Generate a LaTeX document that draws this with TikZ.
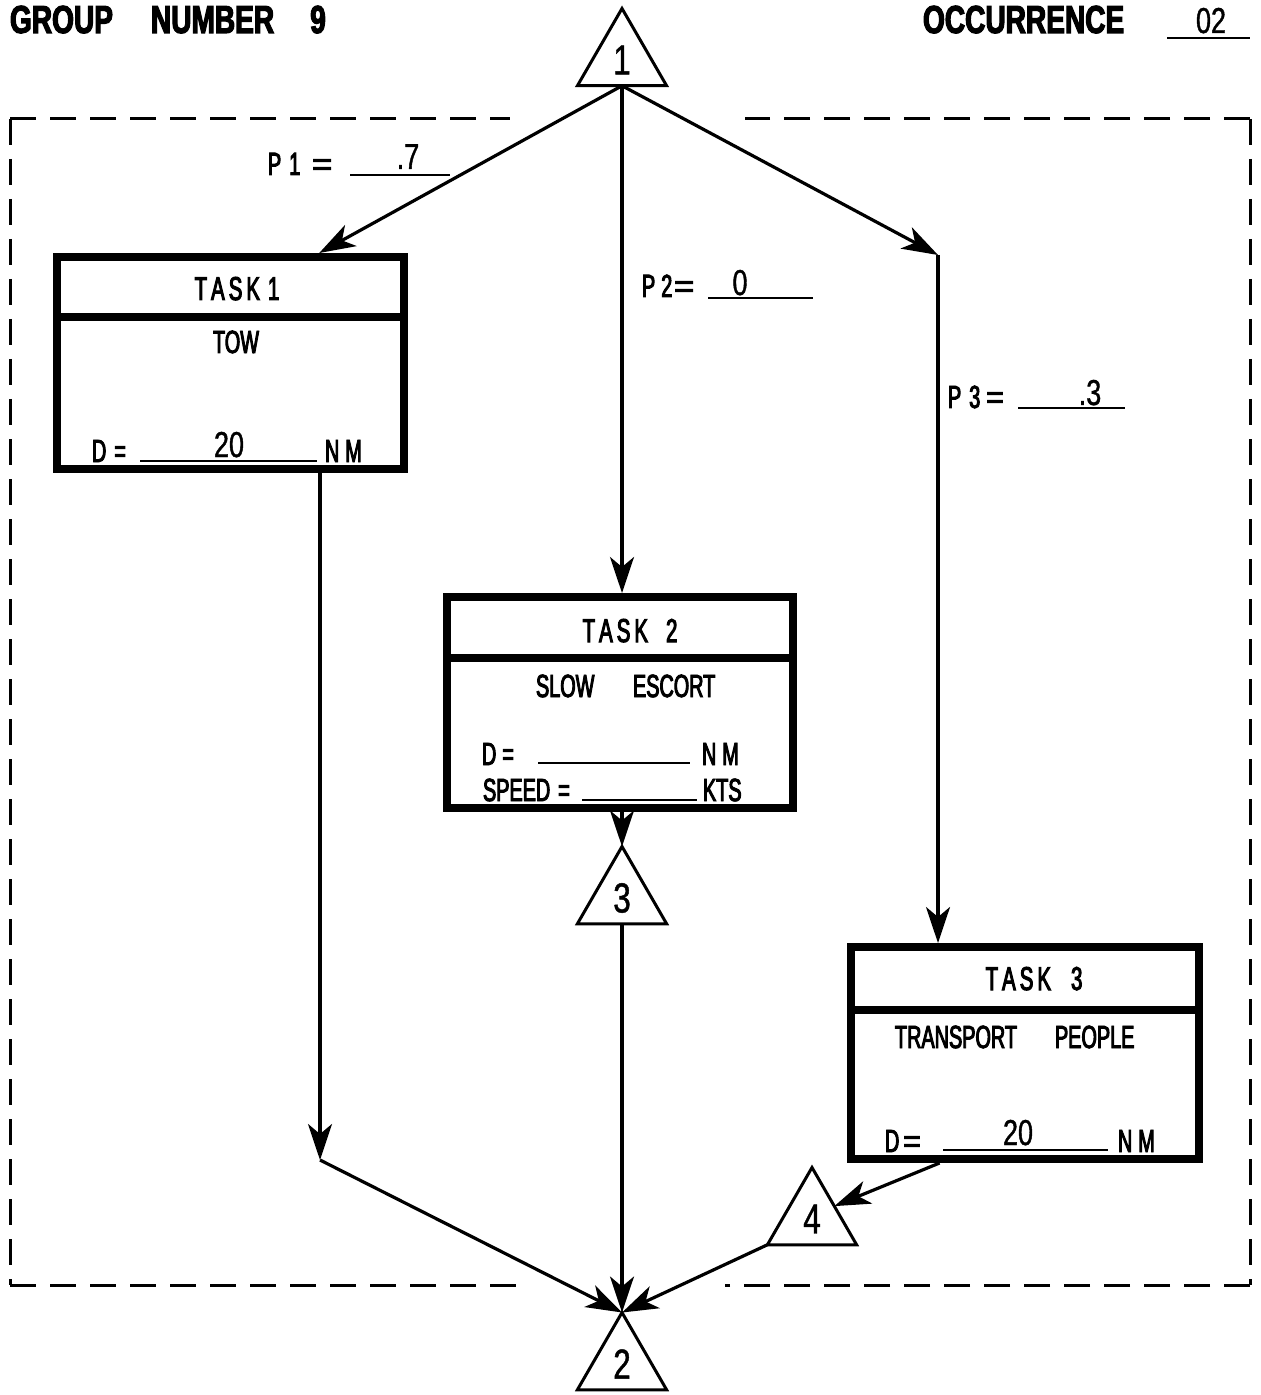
\documentclass[tikz,border=0pt]{standalone}
\usepackage{fontspec}
\usepackage{graphicx}
\setmainfont{Liberation Sans}
\newfontfamily\lblf[FakeStretch=0.62,FakeBold=3]{Liberation Sans}
\newfontfamily\numf[FakeStretch=0.75,FakeBold=1]{Liberation Sans}
\newfontfamily\hdf[FakeStretch=0.72,FakeBold=3]{Liberation Sans}
\usetikzlibrary{shapes.geometric,arrows.meta,fit,calc}
\begin{document}
\begin{tikzpicture}[x=0.5pt,y=-0.5pt,
  lbl/.style={inner sep=0pt, outer sep=0pt, anchor=base west, font=\lblf\fontsize{16}{19}\selectfont},
  ttl/.style={inner sep=0pt, outer sep=0pt, anchor=base, font=\lblf\fontsize{16.5}{19}\selectfont},
  val/.style={inner sep=0pt, outer sep=0pt, anchor=base, font=\numf\fontsize{18}{21}\selectfont},
  head/.style={inner sep=0pt, outer sep=0pt, anchor=base west, font=\hdf\bfseries\fontsize{19.5}{22}\selectfont},
  tri/.style={draw, regular polygon, regular polygon sides=3, minimum size=51.5pt, inner sep=0pt, outer sep=0pt, line width=1.5pt, font=\numf\fontsize{21}{24}\selectfont},
  taskbox/.style={draw, line width=4pt, inner sep=0pt},
  divider/.style={line width=4pt},
  conn/.style={line width=1.6pt, -{Stealth[length=18pt,width=12pt,inset=5pt]}},
  uline/.style={line width=1.1pt},
  frame/.style={line width=1.5pt, dash pattern=on 13pt off 7pt}
]
\useasboundingbox (0,0) rectangle (1261,1395);

% headings
\node[head] (grp) at (10,33) {GROUP\hspace{19pt}NUMBER\hspace{18pt}9};
\node[head] (occ) at (923,33) {OCCURRENCE};
\node[val] (occv) at (1211,33) {02};
\draw[uline] (1167,38) -- (1250,38);

% dashed frame
\draw[frame] (10,119) -- (510,119);
\draw[frame] (10,119) -- (10,1285);
\draw[frame] (10,1285) -- (527,1285);
\draw[frame] (1250,119) -- (745,119);
\draw[frame] (1250,119) -- (1250,1285);
\draw[frame] (1250,1285) -- (725,1285);

% triangles
\node[tri] (t1) at (622,60) {1};
\node[tri] (t3) at (622,898) {3};
\node[tri] (t2) at (622,1364) {2};
\node[tri] (t4) at (812,1219) {4};

% task boxes
\node[taskbox, fit={(57,257) (404,469)}] (task1) {};
\node[taskbox, fit={(447,597) (793,808)}] (task2) {};
\node[taskbox, fit={(851,947) (1199,1159)}] (task3) {};
\draw[divider] (57,317) -- (404,317);
\draw[divider] (447,658) -- (793,658);
\draw[divider] (851,1010) -- (1199,1010);

% task 1 text
\node[ttl] (task1t) at (237,300) {T\kern2pt A\kern2pt S\kern2pt K\hspace{4pt}1};
\node[lbl, anchor=base] (task1a) at (236,353) {TOW};
\node[lbl] (task1d) at (92,462) {D\kern4pt=};
\draw[uline] (140,461) -- (317,461);
\node[val] (task1v) at (229,457) {20};
\node[lbl] (task1u) at (325,462) {N\kern3pt M};

% task 2 text
\node[ttl] (task2t) at (630,642) {T\kern2pt A\kern2pt S\kern2pt K\hspace{9pt}2};
\node[lbl] (task2a) at (536,697) {SLOW};
\node[lbl] (task2b) at (633,697) {ESCORT};
\node[lbl] (task2d) at (482,765) {D\kern3pt=};
\draw[uline] (538,763) -- (690,763);
\node[lbl] (task2u) at (702,765) {N\kern3pt M};
\node[lbl] (task2s) at (483,801) {SPEED\kern4pt=};
\draw[uline] (582,800) -- (697,800);
\node[lbl] (task2k) at (703,801) {KTS};

% task 3 text
\node[ttl] (task3t) at (1034,990) {T\kern2pt A\kern2pt S\kern2pt K\hspace{10pt}3};
\node[lbl] (task3a) at (895,1048) {TRANSPORT};
\node[lbl] (task3b) at (1055,1048) {PEOPLE};
\node[lbl] (task3d) at (885,1152) {D\kern2pt\scalebox{1.5}[1]{=}};
\draw[uline] (943,1150) -- (1108,1150);
\node[val] (task3v) at (1018,1145) {20};
\node[lbl] (task3u) at (1118,1152) {N\kern3pt M};

% probabilities
\node[lbl] (p1) at (268,175) {P\kern4pt 1\kern6pt\scalebox{1.7}[1]{=}};
\draw[uline] (350,175) -- (450,175);
\node[val] (p1v) at (408,169) {.7};
\node[lbl] (p2) at (642,297) {P\kern3pt 2\kern1pt\scalebox{1.7}[1]{=}};
\draw[uline] (708,298) -- (813,298);
\node[val] (p2v) at (740,295) {0};
\node[lbl] (p3) at (948,408) {P\kern4pt 3\kern3pt\scalebox{1.5}[1]{=}};
\draw[uline] (1018,408) -- (1125,408);
\node[val] (p3v) at (1090,405) {.3};

% connectors
\coordinate (t1b) at (t1.side 2);
\coordinate (t3a) at (t3.corner 1);
\coordinate (t3b) at (t3.side 2);
\coordinate (t2a) at (t2.corner 1);
\coordinate (t4r) at (t4.side 3);
\coordinate (t4l) at (t4.corner 2);
\coordinate (bend3) at (938,255);
\coordinate (bend1) at (320,1160);
\draw[conn] (t1b) -- ($(task1.north west)!0.75!(task1.north east)$);
\draw[conn] (t1b) -- (task2.north -| t1b);
\draw[conn] (t1b) -- (bend3);
\draw[conn] (bend3) -- (task3.north -| bend3);
\draw[conn] (task1.south -| bend1) -- (bend1);
\draw[conn] (bend1) -- (t2a);
\draw[conn] (task2.south -| t3a) -- (t3a);
\draw[conn] (t3b) -- (t2a);
\draw[conn] ($(task3.south west)!0.26!(task3.south east)$) -- (t4r);
\draw[conn] (t4l) -- (t2a);
\end{tikzpicture}
\end{document}
